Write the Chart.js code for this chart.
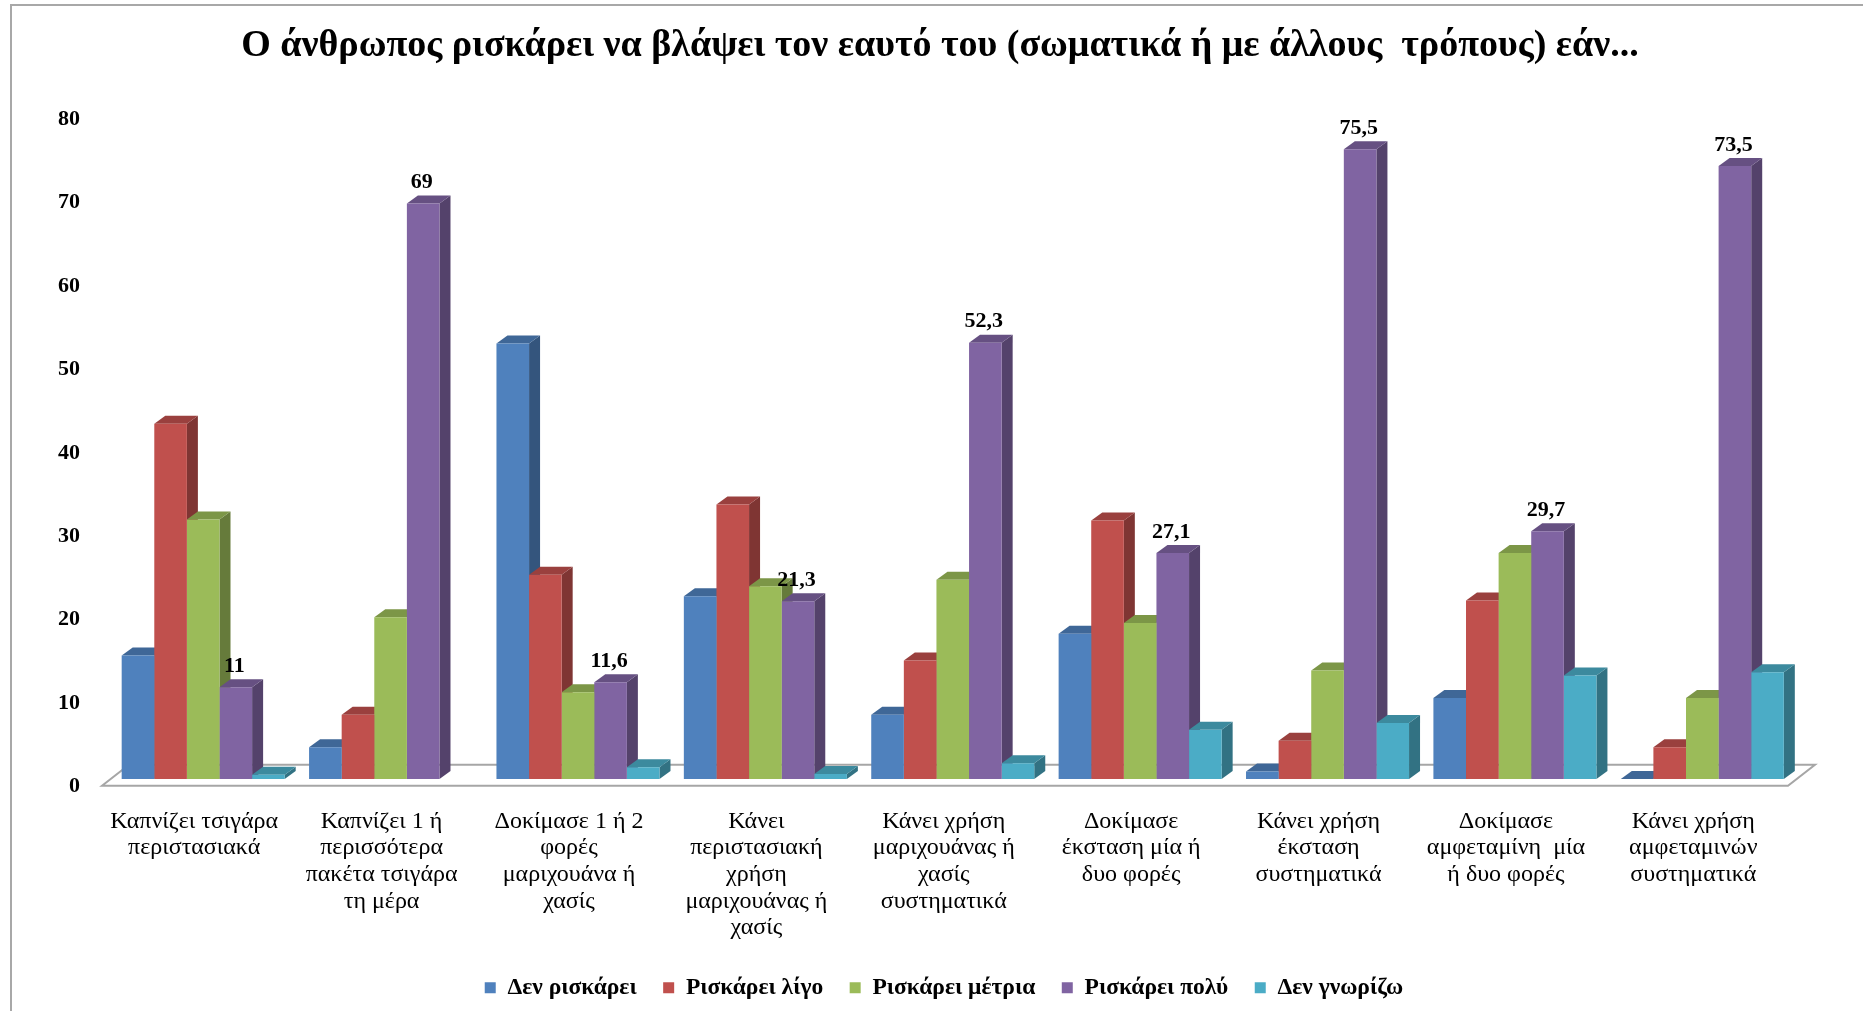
<!DOCTYPE html>
<html lang="el">
<head>
<meta charset="utf-8">
<title>Chart</title>
<style>
html,body{margin:0;padding:0;background:#fff;overflow:hidden}
canvas{display:block;filter:blur(0.55px)}
</style>
<script src="https://cdn.jsdelivr.net/npm/chart.js@4/dist/chart.umd.min.js"></script>
</head>
<body>
<canvas id="c" width="1863" height="1011"></canvas>
<script>
const titleText = "Ο άνθρωπος ρισκάρει να βλάψει τον εαυτό του (σωματικά ή με άλλους  τρόπους) εάν...";
const categories = [
  ["Καπνίζει τσιγάρα","περιστασιακά"],
  ["Καπνίζει 1 ή","περισσότερα","πακέτα τσιγάρα","τη μέρα"],
  ["Δοκίμασε 1 ή 2","φορές","μαριχουάνα ή","χασίς"],
  ["Κάνει","περιστασιακή","χρήση","μαριχουάνας ή","χασίς"],
  ["Κάνει χρήση","μαριχουάνας ή","χασίς","συστηματικά"],
  ["Δοκίμασε","έκσταση μία ή","δυο φορές"],
  ["Κάνει χρήση","έκσταση","συστηματικά"],
  ["Δοκίμασε","αμφεταμίνη  μία","ή δυο φορές"],
  ["Κάνει χρήση","αμφεταμινών","συστηματικά"]
];
const seriesNames = ["Δεν ρισκάρει","Ρισκάρει λίγο","Ρισκάρει μέτρια","Ρισκάρει πολύ","Δεν γνωρίζω"];
const denRiskarei    = [14.8, 3.8, 52.2, 21.9, 7.7, 17.4, 0.9, 9.7, 0];
const riskareiLigo   = [42.6, 7.7, 24.5, 32.9, 14.2, 31.0, 4.6, 21.4, 3.8];
const riskareiMetria = [31.1, 19.4, 10.4, 23.1, 23.9, 18.7, 13.0, 27.1, 9.7];
const riskareiPoly   = [11, 69, 11.6, 21.3, 52.3, 27.1, 75.5, 29.7, 73.5];
const denGnorizo     = [0.5, null, 1.4, 0.6, 1.9, 5.9, 6.7, 12.4, 12.8];
const colors = ["#4f81bd","#c0504d","#9bbb59","#8064a2","#4bacc6"];
const labelledSeries = 3;
const SERIF = "'Liberation Serif'";

function shade(hex, f){
  const n = parseInt(hex.slice(1),16);
  return "rgb(" + [(n>>16)&255,(n>>8)&255,n&255].map(v=>Math.round(v*f)).join(",") + ")";
}

const DX = 11, DY = 8;

const frame3d = {
  id: "frame3d",
  afterLayout(chart){
    chart.titleBlock.left += 84;
    chart.legend.left += 92;
  },
  beforeDraw(chart){
    const c = chart.ctx;
    c.save();
    c.fillStyle = "#fff";
    c.fillRect(0, 0, chart.width, chart.height);
    c.strokeStyle = "#a8a8a8";
    c.lineWidth = 2;
    c.beginPath();
    c.moveTo(11, 1011); c.lineTo(11, 5); c.lineTo(1863, 5);
    c.stroke();
    c.restore();
  },
  beforeDatasetsDraw(chart){
    const c = chart.ctx, a = chart.chartArea, y0 = chart.scales.y.getPixelForValue(0);
    c.save();
    c.fillStyle = "#fff";
    c.strokeStyle = "#a6a6a6";
    c.lineWidth = 2;
    c.beginPath();
    c.moveTo(a.left - 7.5, y0 + 6.7);
    c.lineTo(a.left + 19.5, y0 - 14.3);
    c.lineTo(a.right + 19, y0 - 14.3);
    c.lineTo(a.right - 8, y0 + 6.7);
    c.closePath();
    c.fill(); c.stroke();
    chart.data.datasets.forEach((ds, di) => {
      const col = colors[di];
      chart.getDatasetMeta(di).data.forEach((el, i) => {
        if (ds.data[i] === null) return;
        const {x, y, width, base} = el.getProps(["x","y","width","base"]);
        const l = x - width/2, r = x + width/2;
        c.fillStyle = shade(col, 0.66);
        c.beginPath();
        c.moveTo(r, y); c.lineTo(r+DX, y-DY); c.lineTo(r+DX, base-DY); c.lineTo(r, base);
        c.closePath(); c.fill();
        c.fillStyle = shade(col, 0.8);
        c.beginPath();
        c.moveTo(l, y); c.lineTo(l+DX, y-DY); c.lineTo(r+DX, y-DY); c.lineTo(r, y);
        c.closePath(); c.fill();
      });
    });
    c.restore();
  },
  afterDatasetsDraw(chart){
    const c = chart.ctx;
    c.save();
    c.font = "bold 22px " + SERIF;
    c.fillStyle = "#000";
    c.textAlign = "center";
    c.textBaseline = "middle";
    chart.getDatasetMeta(labelledSeries).data.forEach((el, i) => {
      const v = chart.data.datasets[labelledSeries].data[i];
      c.fillText(String(v).replace(".", ","), el.x - 1.5, el.y - 21);
    });
    c.restore();
  }
};

new Chart(document.getElementById("c"), {
  type: "bar",
  plugins: [frame3d],
  data: {
    labels: categories,
    datasets: [denRiskarei, riskareiLigo, riskareiMetria, riskareiPoly, denGnorizo].map((d,i)=>({
      label: seriesNames[i],
      data: d,
      backgroundColor: colors[i],
      borderWidth: 0,
      barPercentage: 1,
      categoryPercentage: 0.87
    }))
  },
  options: {
    responsive: false,
    animation: false,
    layout: { padding: { left: 0, right: 67, top: 0, bottom: 1.5 } },
    plugins: {
      tooltip: { enabled: false },
      title: {
        display: true,
        text: titleText,
        color: "#000",
        font: { family: SERIF, size: 38, weight: "bold" },
        padding: { top: 23.6, bottom: 42.5 }
      },
      legend: {
        display: true,
        position: "bottom",
        labels: {
          color: "#000",
          boxWidth: 11,
          boxHeight: 11,
          padding: 26.5,
          font: { family: SERIF, size: 23.5, weight: "bold" }
        }
      }
    },
    scales: {
      x: {
        grid: { display: false },
        border: { display: false },
        afterFit(s){ s.height = 170.5; },
        ticks: {
          autoSkip: false,
          maxRotation: 0,
          minRotation: 0,
          color: "#000",
          padding: 21,
          labelOffset: -9,
          font: { family: SERIF, size: 24, lineHeight: 1.11 }
        }
      },
      y: {
        min: 0,
        max: 80,
        grid: { display: false },
        border: { display: false },
        afterFit(s){ s.width = 109.5; },
        ticks: {
          stepSize: 10,
          color: "#000",
          padding: 21.5,
          labelOffset: 7.5,
          font: { family: SERIF, size: 22, weight: "bold" }
        }
      }
    }
  }
});
</script>
</body>
</html>
